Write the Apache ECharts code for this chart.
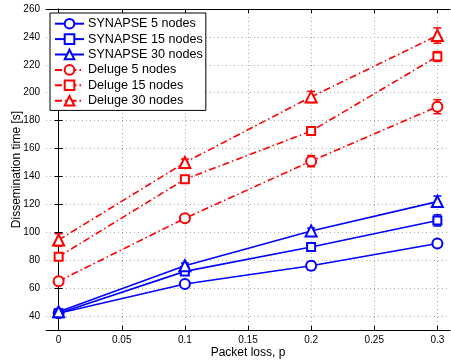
<!DOCTYPE html>
<html>
<head>
<meta charset="utf-8">
<script src="https://cdn.jsdelivr.net/npm/echarts@6/dist/echarts.min.js"></script>
<style>
  html, body { margin: 0; padding: 0; background: #fff; }
  #chart { width: 451px; height: 360px; }
</style>
</head>
<body>
<div id="chart"></div>
<script>
// packet loss values on the x axis
const lossValues = [0, 0.1, 0.2, 0.3];
const xTicks = [0, 0.05, 0.1, 0.15, 0.2, 0.25, 0.3];
const yTicks = [40, 60, 80, 100, 120, 140, 160, 180, 200, 220, 240, 260];

const synapse5 = [42, 63, 76, 92];
const synapse15 = [42, 72, 89.5, 108.5];
const synapse30 = [43, 76, 101, 122];
const deluge5 = [65, 110, 151, 190];
const deluge15 = [82.5, 138, 172.5, 226];
const deluge30 = [94.5, 150, 197, 241];

// half width of the error bars
const synapse5Err = [1, 1.5, 3, 2.5];
const synapse15Err = [1, 2, 2.5, 4];
const synapse30Err = [1, 2, 2, 4];
const deluge5Err = [1, 1.5, 4, 5];
const deluge15Err = [1, 1.5, 3, 3.5];
const deluge30Err = [4.5, 2.5, 4, 5.5];

const BLUE = '#0000ff';
const RED = '#ff0000';
const dashDot = [7, 3, 1.5, 3];

const zip = vals => lossValues.map((x, i) => [x, vals[i]]);

function lineSeries(name, vals, color, symbol, size, dashed) {
    return {
        name: name,
        type: 'line',
        data: zip(vals),
        symbol: symbol,
        symbolSize: size,
        z: 3,
        lineStyle: { color: color, width: 1.6, type: dashed ? dashDot : 'solid' },
        itemStyle: { color: color, borderColor: color, borderWidth: 1.6 },
        emphasis: { disabled: true }
    };
}

function errSeries(vals, errs, color) {
    return {
        type: 'custom',
        z: 2,
        silent: true,
        data: lossValues.map((x, i) => [x, vals[i] - errs[i], vals[i] + errs[i]]),
        renderItem: function (params, api) {
            const lo = api.coord([api.value(0), api.value(1)]);
            const hi = api.coord([api.value(0), api.value(2)]);
            const w = 4;
            const st = { stroke: color, lineWidth: 1.5 };
            return {
                type: 'group',
                children: [
                    { type: 'line', shape: { x1: lo[0], y1: lo[1], x2: hi[0], y2: hi[1] }, style: st },
                    { type: 'line', shape: { x1: lo[0] - w, y1: lo[1], x2: lo[0] + w, y2: lo[1] }, style: st },
                    { type: 'line', shape: { x1: hi[0] - w, y1: hi[1], x2: hi[0] + w, y2: hi[1] }, style: st }
                ]
            };
        }
    };
}

const chart = echarts.init(document.getElementById('chart'));

const font = 'Liberation Sans, Arial, Helvetica, sans-serif';

chart.setOption({
    animation: false,
    textStyle: { fontFamily: font },
    grid: { left: 46, right: 1, top: 9, bottom: 30, outerBoundsMode: 'none' },
    legend: {
        left: 50,
        top: 13,
        orient: 'vertical',
        itemGap: 0,
        itemWidth: 29,
        itemHeight: 12,
        padding: [3, 3, 2, 4],
        borderColor: '#000',
        borderWidth: 1,
        backgroundColor: '#fff',
        textStyle: { fontSize: 12.6, lineHeight: 15.4, color: '#000', fontFamily: font, padding: [0, 0, 0, -1] },
        data: ['SYNAPSE 5 nodes', 'SYNAPSE 15 nodes', 'SYNAPSE 30 nodes',
               'Deluge 5 nodes', 'Deluge 15 nodes', 'Deluge 30 nodes']
    },
    xAxis: [{
        type: 'value',
        min: -0.01,
        max: 0.31,
        name: 'Packet loss, p',
        nameLocation: 'middle',
        nameGap: 17,
        nameMoveOverlap: false,
        nameTextStyle: { fontSize: 12, color: '#000', verticalAlign: 'top' },
        axisLine: { lineStyle: { color: '#000', width: 1 } },
        axisTick: { inside: true, length: 4, customValues: xTicks, lineStyle: { color: '#000' } },
        axisLabel: { customValues: xTicks, fontSize: 10, color: '#000', margin: 5 },
        splitLine: { show: true, lineStyle: { color: '#aaa', type: [1, 3] } }
    }, {
        type: 'value',
        position: 'top',
        min: -0.01,
        max: 0.31,
        axisLine: { lineStyle: { color: '#000', width: 1 } },
        axisTick: { inside: true, length: 4, customValues: xTicks, lineStyle: { color: '#000' } },
        axisLabel: { show: false },
        splitLine: { show: false }
    }],
    yAxis: [{
        type: 'value',
        min: 30,
        max: 260,
        name: 'Dissemination time [s]',
        nameLocation: 'middle',
        nameGap: 23,
        nameMoveOverlap: false,
        nameTextStyle: { fontSize: 12, color: '#000' },
        axisLine: { show: true, lineStyle: { color: '#000', width: 1 } },
        axisTick: { show: true, inside: true, length: 4, customValues: yTicks, lineStyle: { color: '#000' } },
        axisLabel: { customValues: yTicks, fontSize: 10, color: '#000', margin: 6 },
        splitLine: { show: true, lineStyle: { color: '#aaa', type: [1, 3] } }
    }, {
        type: 'value',
        position: 'right',
        min: 30,
        max: 260,
        axisLine: { show: true, lineStyle: { color: '#000', width: 1 } },
        axisTick: { show: true, inside: true, length: 4, customValues: yTicks, lineStyle: { color: '#000' } },
        axisLabel: { show: false },
        splitLine: { show: false }
    }],
    series: [
        errSeries(synapse5, synapse5Err, BLUE),
        errSeries(synapse15, synapse15Err, BLUE),
        errSeries(synapse30, synapse30Err, BLUE),
        errSeries(deluge5, deluge5Err, RED),
        errSeries(deluge15, deluge15Err, RED),
        errSeries(deluge30, deluge30Err, RED),
        lineSeries('SYNAPSE 5 nodes', synapse5, BLUE, 'emptyCircle', 10, false),
        lineSeries('SYNAPSE 15 nodes', synapse15, BLUE, 'emptyRect', 8, false),
        lineSeries('SYNAPSE 30 nodes', synapse30, BLUE, 'emptyTriangle', 11, false),
        lineSeries('Deluge 5 nodes', deluge5, RED, 'emptyCircle', 10, true),
        lineSeries('Deluge 15 nodes', deluge15, RED, 'emptyRect', 8, true),
        lineSeries('Deluge 30 nodes', deluge30, RED, 'emptyTriangle', 11, true)
    ]
});

window.addEventListener('resize', () => chart.resize());
</script>
</body>
</html>
